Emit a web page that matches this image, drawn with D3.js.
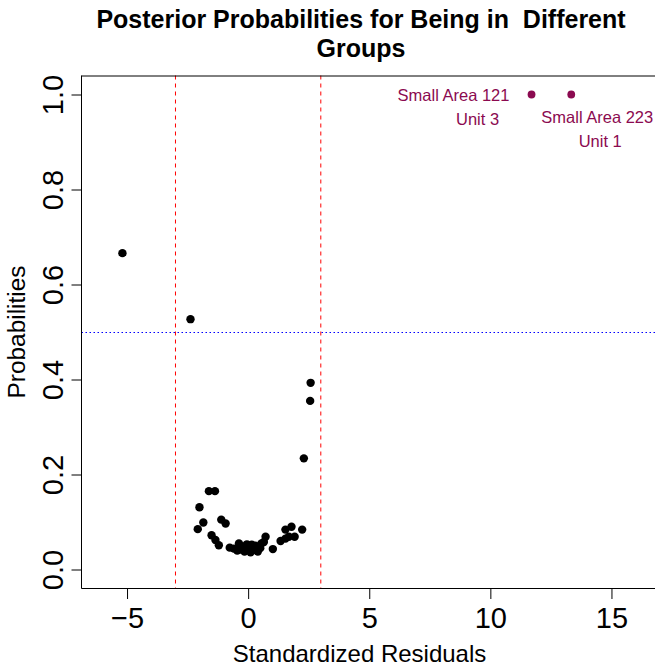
<!DOCTYPE html>
<html><head><meta charset="utf-8">
<script src="https://cdn.jsdelivr.net/npm/d3@7"></script>
<style>body{margin:0;background:#fff}svg{display:block}text{font-family:"Liberation Sans",Arial,sans-serif}</style>
</head><body>
<script>
const residuals = [-5.19,-2.38,2.58,2.56,2.30,-1.62,-1.37,-2.01,-1.85,-2.08,-1.11,-0.93,-1.51,-1.35,-1.21,-0.76,-0.59,-0.38,1.02,1.34,1.54,1.68,1.54,1.79,1.92,2.23,0.72,0.65,-0.45,-0.25,-0.15,0.0,0.1,0.2,0.3,0.4,0.5,-0.05,0.15,0.55,0.35,-0.3];
const probabilities = [0.666,0.527,0.393,0.355,0.234,0.165,0.165,0.131,0.099,0.085,0.105,0.097,0.072,0.062,0.051,0.046,0.044,0.055,0.043,0.060,0.065,0.069,0.084,0.090,0.069,0.084,0.069,0.058,0.040,0.048,0.038,0.045,0.036,0.042,0.050,0.038,0.045,0.053,0.052,0.055,0.040,0.042];
const outlierResiduals = [11.70, 13.34];
const outlierProbs = [1.0, 1.0];
const outlierLabels = [["Small Area 121","Unit 3"],["Small Area 223","Unit 1"]];
const xTicks = [-5,0,5,10,15];
const yTicks = [0,0.2,0.4,0.6,0.8,1.0];
const vLines = [-3,3];
const hLine = 0.5;

const W=655,H=666;
const L=81.5,R=657,T=75.5,B=588.5;
const svg=d3.select("body").append("svg").attr("width",W).attr("height",H);
const x=d3.scaleLinear().domain([-6.88,16.88]).range([L,R]);
const y=d3.scaleLinear().domain([-0.04,1.04]).range([B,T]);

// reference lines
svg.selectAll(".vl").data(vLines).enter().append("line")
  .attr("x1",d=>x(d)).attr("x2",d=>x(d)).attr("y1",T).attr("y2",B)
  .attr("stroke","#ff0000").attr("stroke-width",1).attr("stroke-dasharray","4,4");
const hy=Math.round(y(hLine))+0.5;
svg.append("line").attr("x1",L).attr("x2",R).attr("y1",hy).attr("y2",hy)
  .attr("stroke","#0000ff").attr("stroke-width",1).attr("stroke-dasharray","1.5,2.5");

// frame
svg.append("line").attr("x1",L).attr("x2",R).attr("y1",B).attr("y2",B).attr("stroke","#000");
svg.append("line").attr("x1",L).attr("x2",L).attr("y1",T).attr("y2",B).attr("stroke","#000");
svg.append("line").attr("x1",L).attr("x2",R).attr("y1",76).attr("y2",76).attr("stroke","#000");

// axes
const xAxis=d3.axisBottom(x).tickValues(xTicks).tickSize(10.5).tickPadding(8).tickFormat(d=>d<0?"\u2212"+Math.abs(d):String(d));
const gx=svg.append("g").attr("transform",`translate(0,${B})`).call(xAxis);
gx.select(".domain").remove();
gx.selectAll("text").attr("font-size",29).attr("fill","#000").attr("font-family","Liberation Sans, Arial, sans-serif");
gx.selectAll("line").attr("stroke","#000");

const yAxis=d3.axisLeft(y).tickValues(yTicks).tickSize(10).tickFormat(d3.format(".1f"));
const gy=svg.append("g").attr("transform",`translate(${L},0)`).call(yAxis);
gy.select(".domain").remove();
gy.selectAll("line").attr("stroke","#000");
gy.selectAll("text").attr("font-size",29).attr("fill","#000").attr("font-family","Liberation Sans, Arial, sans-serif")
  .attr("x",null).attr("dy",null).attr("y",0).attr("text-anchor","middle")
  .attr("transform","translate(-18.5,0) rotate(-90)");

// points
svg.selectAll(".pt").data(residuals.map((r,i)=>[r,probabilities[i]])).enter().append("circle")
  .attr("cx",d=>x(d[0])).attr("cy",d=>y(d[1])).attr("r",4.2).attr("fill","#000");

const col="#8B0A50";
svg.selectAll(".op").data(outlierResiduals.map((r,i)=>[r,outlierProbs[i]])).enter().append("circle")
  .attr("cx",d=>x(d[0])).attr("cy",d=>y(d[1])).attr("r",3.9).attr("fill",col);

// labels
const lab=[{dx:-78,dy:6.5},{dx:26,dy:28.5}];
outlierLabels.forEach((ls,i)=>{
  const px=x(outlierResiduals[i]),py=y(outlierProbs[i]);
  const o=lab[i];
  svg.append("text").attr("x",px+o.dx).attr("y",py+o.dy).attr("text-anchor","middle")
    .attr("font-size",16.5).attr("fill",col).text(ls[0]);
  svg.append("text").attr("x",px+o.dx+(i===0?24:3)).attr("y",py+o.dy+23.5).attr("text-anchor","middle")
    .attr("font-size",16.5).attr("fill",col).text(ls[1]);
});

// titles
const tx=361;
svg.append("text").attr("x",tx).attr("y",28).attr("text-anchor","middle").attr("font-size",25)
  .attr("font-weight","bold").style("white-space","pre").text("Posterior Probabilities for Being in  Different");
svg.append("text").attr("x",tx).attr("y",57).attr("text-anchor","middle").attr("font-size",25)
  .attr("font-weight","bold").text("Groups");
svg.append("text").attr("x",x(4.6)).attr("y",662).attr("text-anchor","middle").attr("font-size",24).text("Standardized Residuals");
svg.append("text").attr("transform",`translate(25,${(T+B)/2}) rotate(-90)`).attr("text-anchor","middle").attr("font-size",24.4).text("Probabilities");
</script>
</body></html>
